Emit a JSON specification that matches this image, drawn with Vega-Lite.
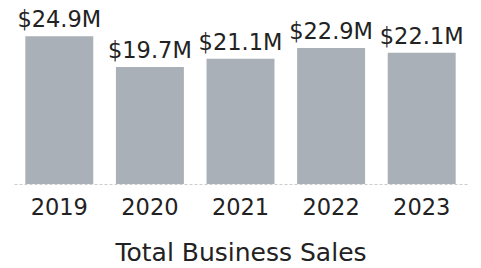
{
  "$schema": "https://vega.github.io/schema/vega-lite/v6.json",
  "width": 453,
  "height": 184,
  "padding": {"left": 14, "top": 0, "right": 14, "bottom": 0},
  "background": "white",
  "config": {"view": {"stroke": null}, "font": "DejaVu Sans"},
  "data": {"values": [
    {"year": "2019", "sales": 24.9, "label": "$24.9M"},
    {"year": "2020", "sales": 19.7, "label": "$19.7M"},
    {"year": "2021", "sales": 21.1, "label": "$21.1M"},
    {"year": "2022", "sales": 22.9, "label": "$22.9M"},
    {"year": "2023", "sales": 22.1, "label": "$22.1M"}
  ]},
  "encoding": {
    "x": {"field": "year", "type": "nominal", "sort": null,
      "scale": {"paddingInner": 0.25, "paddingOuter": 0.125},
      "axis": {"title": "Total Business Sales", "labelAngle": 0, "ticks": false,
        "domain": true, "domainColor": "#cccccc", "domainDash": [3, 2], "domainWidth": 1,
        "labelFontSize": 22.5, "labelColor": "#222222", "labelPadding": 12, "labelFont": "DejaVu Sans",
        "titleFontSize": 25, "titleFontWeight": "normal", "titleColor": "#222222", "titlePadding": 22, "titleFont": "DejaVu Sans"}},
    "y": {"field": "sales", "type": "quantitative",
      "scale": {"domain": [0, 31], "nice": false, "zero": true},
      "axis": null}
  },
  "layer": [
    {"mark": {"type": "bar", "color": "#a9b0b8"}},
    {"mark": {"type": "text", "baseline": "alphabetic", "dy": -9, "fontSize": 22.5, "color": "#222222", "font": "DejaVu Sans"},
     "encoding": {"text": {"field": "label"}}}
  ]
}
